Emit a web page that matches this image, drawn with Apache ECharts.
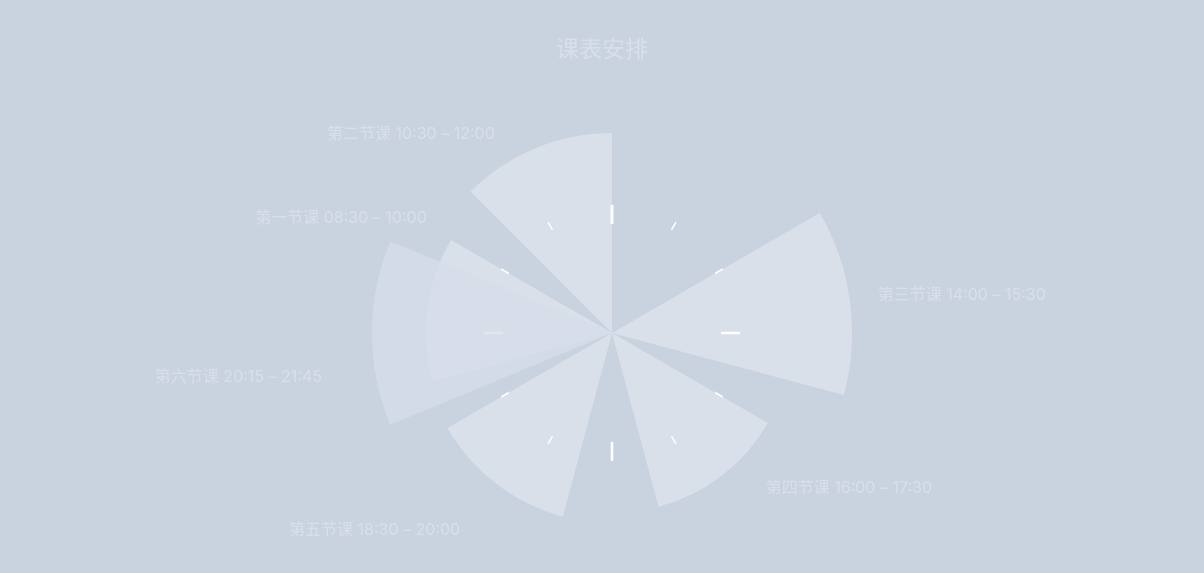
<!DOCTYPE html>
<html>
<head>
<meta charset="utf-8">
<script src="https://cdn.jsdelivr.net/npm/echarts@6/dist/echarts.min.js"></script>
<style>html,body{margin:0;padding:0;background:#c9d3e0;}#main{width:1204px;height:573px;}</style>
</head>
<body>
<div id="main"></div>
<script>
var lessons = ['第一节课', '第二节课', '第三节课', '第四节课', '第五节课', '第六节课'];
var startTimes = ['08:30', '10:30', '14:00', '16:00', '18:30', '20:15'];
var endTimes = ['10:00', '12:00', '15:30', '17:30', '20:00', '21:45'];
// 每个扇形的半径（样式）
var radii = [186, 200, 240, 180, 190, 240];
// 标签偏移（样式）
var labelShift = [[49, -89], [0, 0], [-22, -5], [0, 0], [8, 35], [0, 44]];

function toMin(t) {
    var p = t.split(':');
    return (parseInt(p[0]) % 12) * 60 + parseInt(p[1]);
}

var myChart = echarts.init(document.getElementById('main'));
var series = [];
lessons.forEach(function (name, i) {
    var s = toMin(startTimes[i]);
    var e = toMin(endTimes[i]);
    if (e <= s) e += 720;
    var dur = e - s;
    series.push({
        type: 'pie',
        center: [612, 333],
        radius: [0, radii[i]],
        startAngle: 90,
        clockwise: true,
        silent: true,
        labelLine: { show: false },
        labelLayout: { dx: labelShift[i][0], dy: labelShift[i][1] },
        data: [
            { value: s, itemStyle: { color: 'transparent' }, label: { show: false } },
            {
                value: dur,
                name: name + ' ' + startTimes[i] + ' – ' + endTimes[i],
                itemStyle: { color: i === 5 ? 'rgba(214,221,232,0.75)' : 'rgba(255,255,255,0.3)' },
                label: {
                    show: true,
                    position: 'outside',
                    formatter: '{b}',
                    color: 'rgba(255,255,255,0.28)',
                    fontSize: 16,
                    fontFamily: 'Inter, Noto Sans CJK SC'
                }
            },
            { value: 720 - e, itemStyle: { color: 'transparent' }, label: { show: false } }
        ]
    });
});
function clock(split, len, width) {
    return {
        type: 'gauge',
        center: [612, 333],
        radius: 128,
        startAngle: 90,
        endAngle: -270,
        min: 0,
        max: 12,
        splitNumber: split,
        silent: true,
        axisLine: { lineStyle: { width: 0, color: [[1, 'transparent']] } },
        splitLine: { length: len, distance: 0, lineStyle: { color: '#fff', width: width } },
        axisTick: { show: false },
        axisLabel: { show: false },
        pointer: { show: false },
        detail: { show: false },
        title: { show: false },
        data: [{ value: 0 }]
    };
}
series.push(clock(12, 9, 1.5));
series.push(clock(4, 19, 2.5));

var option = {
    backgroundColor: '#c9d3e0',
    title: {
        text: '课表安排',
        left: 'center',
        top: 32,
        textStyle: { color: 'rgba(255,255,255,0.28)', fontSize: 23, fontWeight: 'normal', fontFamily: 'Noto Sans CJK SC' }
    },
    series: series
};
myChart.setOption(option);
</script>
</body>
</html>
